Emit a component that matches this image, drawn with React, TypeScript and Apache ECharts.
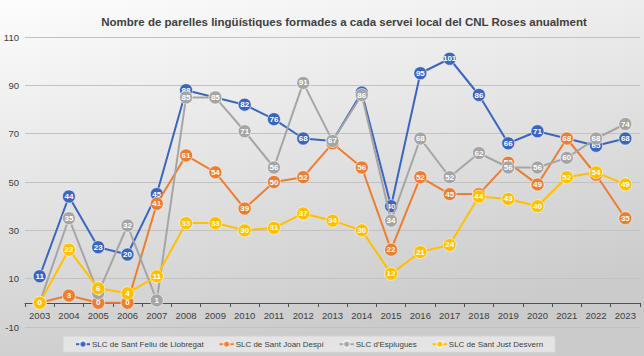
import React, { useEffect, useRef } from "react";
import * as echarts from "echarts";

const years = ["2003","2004","2005","2006","2007","2008","2009","2010","2011","2012","2013","2014","2015","2016","2017","2018","2019","2020","2021","2022","2023"];
const santFeliu = [11,44,23,20,45,88,85,82,76,68,67,87,40,95,101,86,66,71,68,65,68];
const santJoan = [0,3,0,0,41,61,54,39,50,52,66,56,22,52,45,45,58,49,68,53,35];
const esplugues = [0,35,4,32,1,85,85,71,56,91,67,86,34,68,52,62,56,56,60,68,74];
const santJust = [0,22,6,4,11,33,33,30,31,37,34,30,12,21,24,44,43,40,52,54,49];

const seriesNames = ["SLC de Sant Feliu de Llobregat","SLC de Sant Joan Despí","SLC d'Esplugues","SLC de Sant Just Desvern"];
const seriesColors = ["#3A66C1","#ED7D31","#A5A5A5","#FFC000"];
const seriesData = [santFeliu, santJoan, esplugues, santJust];
// years whose label is hidden under another series' marker in the reference
const coveredLabels = [["2009","2013","2014","2021"], ["2003","2013"], ["2003"], []];

const yMin = -10;
const yMax = 110;

export default function App() {
  const ref = useRef<HTMLDivElement>(null);
  useEffect(() => {
    if (!ref.current) return;
    const chart = echarts.init(ref.current, null, { renderer: "svg" });
    const font = "'Liberation Sans', Arial, sans-serif";
    const gridTop = 37;
    const gridBottom = 29;
    const plotH = 356 - gridTop - gridBottom;
    const zeroOffset = -Math.round((0 - yMin) / (yMax - yMin) * plotH);
    chart.setOption({
      animation: false,
      backgroundColor: new echarts.graphic.LinearGradient(0, 0, 0.35, 1, [
        { offset: 0, color: "#fdfdfd" },
        { offset: 1, color: "#cbcbcb" },
      ]),
      title: {
        text: "Nombre de parelles lingüístiques formades a cada servei local del CNL Roses anualment",
        left: 339,
        textAlign: "center",
        top: 11,
        textStyle: { fontFamily: font, fontSize: 11.5, fontWeight: "bold", color: "#404040" },
      },
      legend: {
        left: 63,
        top: 336,
        itemWidth: 14,
        itemHeight: 8,
        itemGap: 15,
        padding: [4, 12, 4, 12],
        backgroundColor: "#e4e4e4",
        borderColor: "#d2d2d2",
        borderWidth: 1,
        textStyle: { fontFamily: font, fontSize: 8, color: "#404040", padding: [0, 0, 0, -3] },
        data: seriesNames,
      },
      grid: { left: 25, right: 4, top: gridTop, bottom: gridBottom },
      xAxis: {
        type: "category",
        data: years,
        boundaryGap: true,
        position: "bottom",
        offset: zeroOffset,
        axisLine: { show: true, onZero: false, lineStyle: { color: "#505050", width: 1 } },
        axisTick: { show: true, length: 4, lineStyle: { color: "#505050" } },
        axisLabel: { fontFamily: font, fontSize: 9.5, color: "#404040", margin: 7 },
        splitLine: { show: false },
      },
      yAxis: [
        {
          type: "value",
          min: yMin,
          max: yMax,
          show: true,
          position: "left",
          axisLine: { show: false },
          axisTick: { show: false },
          axisLabel: { show: false },
          splitLine: { show: false },
        },
        {
          type: "value",
          min: 0,
          max: yMax - yMin,
          interval: 20,
          position: "left",
          axisLine: { show: false },
          axisTick: { show: false },
          axisLabel: {
            fontFamily: font,
            fontSize: 9.5,
            color: "#404040",
            margin: 6,
            formatter: (v: number) => String(v + yMin),
          },
          splitLine: { show: true, lineStyle: { color: "#c2c2c2", width: 1 } },
        },
      ],
      series: seriesData.map((d, i) => ({
        name: seriesNames[i],
        type: "line",
        yAxisIndex: 0,
        data: d.map((v, j) =>
          coveredLabels[i].includes(years[j]) ? { value: v, label: { show: false } } : v
        ),
        symbol: "circle",
        symbolSize: 13,
        lineStyle: { color: seriesColors[i], width: 2 },
        itemStyle: { color: seriesColors[i], borderColor: "rgba(255,255,255,0.55)", borderWidth: 1 },
        label: {
          show: true,
          position: "inside",
          color: "#ffffff",
          fontSize: 8,
          fontWeight: "bold",
          fontFamily: font,
        },
        z: 2 + i,
      })),
    });
    return () => chart.dispose();
  }, []);
  return <div ref={ref} style={{ position: "fixed", left: 0, top: 0, width: 644, height: 356 }} />;
}
